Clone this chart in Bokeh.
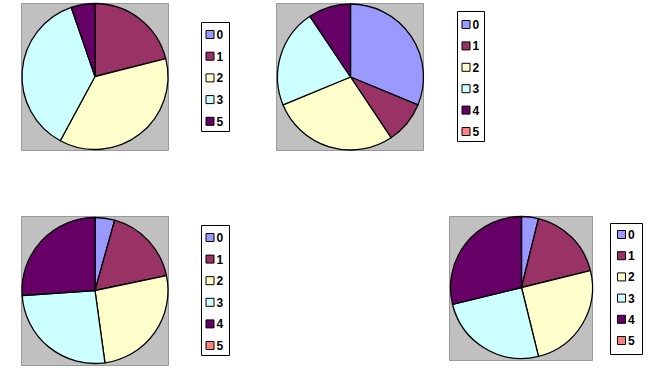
import math
from bokeh.plotting import figure
from bokeh.models import Range1d, ColumnDataSource
from bokeh.core.properties import value
from bokeh.embed import file_html
from bokeh.resources import INLINE

W, H = 649, 372

# ---- data ----
cats1 = ["0", "1", "2", "3", "5"]
vals1 = [0, 4, 7, 7, 1]
cats2 = ["0", "1", "2", "3", "4", "5"]
vals2 = [10, 3, 9, 7, 3, 0]
cats3 = ["0", "1", "2", "3", "4", "5"]
vals3 = [1, 4, 6, 6, 6, 0]
cats4 = ["0", "1", "2", "3", "4", "5"]
vals4 = [2, 9, 13, 13, 15, 0]
palette = ["#9999FF", "#993366", "#FFFFCC", "#CCFFFF", "#660066", "#FF8080"]

# ---- layout (pixel positions, top-left origin) ----
charts = [
    dict(cats=cats1, vals=vals1, box=(21, 3, 168, 150), c=(94.5, 76), r=73,
         leg=(201, 22, 229, 131), ly0=34, dy=21.7, so=8.5),
    dict(cats=cats2, vals=vals2, box=(276, 3, 423, 150), c=(350, 76.5), r=73,
         leg=(457, 11, 484, 141), ly0=24, dy=21.4, so=8.5),
    dict(cats=cats3, vals=vals3, box=(21, 216, 168, 365), c=(94.5, 290), r=73,
         leg=(201, 225, 229, 355), ly0=237, dy=21.6, so=8.5),
    dict(cats=cats4, vals=vals4, box=(449, 216, 592, 360), c=(521, 287), r=71,
         leg=(610, 223, 642, 354), ly0=234, dy=21.2, so=11),
]

p = figure(width=W, height=H, output_backend="svg", toolbar_location=None,
           x_range=Range1d(0, W), y_range=Range1d(0, H), min_border=0)
p.axis.visible = False
p.grid.visible = False
p.outline_line_color = None
p.background_fill_color = "white"
p.border_fill_color = "white"

for ch in charts:
    x0, y0, x1, y1 = ch["box"]
    p.quad(left=x0, right=x1, top=H - y0, bottom=H - y1,
           fill_color="#C0C0C0", line_color="#9a9a9a", line_width=1)
    total = float(sum(ch["vals"]))
    starts, ends, cols = [], [], []
    cum = 0.0
    for i, v in enumerate(ch["vals"]):
        if v > 0:
            a0 = math.pi / 2 - 2 * math.pi * cum / total
            a1 = math.pi / 2 - 2 * math.pi * (cum + v) / total
            starts.append(a0)
            ends.append(a1)
            cols.append(palette[i])
        cum += v
    cx, cy = ch["c"]
    src = ColumnDataSource(dict(s=starts, e=ends, col=cols))
    p.wedge(x=cx, y=H - cy, radius=ch["r"], start_angle="s", end_angle="e",
            direction="clock", fill_color="col", line_color="black",
            line_width=1.3, source=src)

    lx0, ly0, lx1, ly1 = ch["leg"]
    p.quad(left=lx0, right=lx1, top=H - ly0, bottom=H - ly1,
           fill_color="white", line_color="black", line_width=1)
    n = len(ch["cats"])
    ys = [H - (ch["ly0"] + i * ch["dy"]) for i in range(n)]
    sx = [lx0 + ch["so"]] * n
    p.rect(x=sx, y=ys, width=8, height=8, fill_color=palette[:n],
           line_color="black", line_width=1)
    p.text(x=[lx0 + ch["so"] + 6.5] * n, y=ys, text=ch["cats"], text_baseline="middle",
           text_align="left", text_font=value("Liberation Sans"),
           text_font_style="bold", text_font_size="12px", text_color="black")

open("out.html", "w").write(file_html(p, INLINE))
